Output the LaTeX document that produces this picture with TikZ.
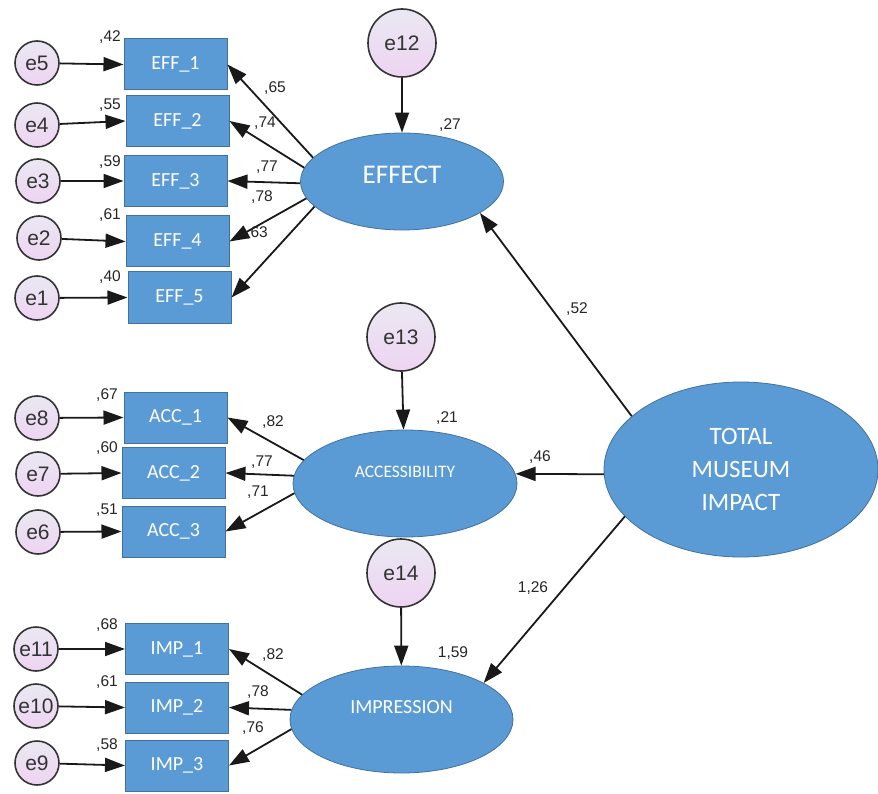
\documentclass[tikz,border=0pt]{standalone}
\usepackage{fontspec}
\usetikzlibrary{shapes.geometric,arrows.meta}
\newfontfamily\numfont{Liberation Sans}
\newfontfamily\boxfont{Carlito}
\definecolor{amosblue}{RGB}{91,155,213}
\definecolor{amosedge}{RGB}{65,113,156}
\definecolor{errtop}{RGB}{234,232,242}
\definecolor{errbot}{RGB}{238,212,242}
\newcommand{\liftby}[2]{\raisebox{#1}[0pt][0pt]{#2}}
\tikzstyle{errs}=[circle,draw=black!80,line width=1.6pt,top color=errtop,bottom color=errbot,minimum size=44pt,inner sep=0pt,text=black!80,font=\numfont\fontsize{21}{21}\selectfont]
\tikzstyle{errl}=[errs,minimum size=68pt]
\tikzstyle{obs}=[rectangle,draw=amosedge,line width=1pt,fill=amosblue,minimum width=103pt,minimum height=51pt,inner sep=0pt,text=white,font=\boxfont\fontsize{20}{20}\selectfont]
\tikzstyle{lat}=[ellipse,draw=amosedge,line width=0.8pt,fill=amosblue,inner sep=0pt,text=white]
\tikzstyle{val}=[inner sep=0pt,text=black!85,font=\numfont\fontsize{15.5}{15.5}\selectfont]
\tikzstyle{arr}=[line width=1.8pt,draw=black!90,-{Triangle[length=20pt,width=14pt]}]

\begin{document}
\begin{tikzpicture}[x=1pt,y=-1pt]
    \useasboundingbox (0,0) rectangle (878,794);
    % latent variables
    \node[lat,minimum width=203pt,minimum height=97pt,font=\boxfont\fontsize{27}{27}\selectfont] (effect) at (402,181.5) {\liftby{-2.5pt}{EFFECT}};
    \node[lat,minimum width=224pt,minimum height=107pt,font=\boxfont\fontsize{17.5}{17.5}\selectfont] (access) at (405,483.5) {\liftby{5.7pt}{ACCESSIBILITY}};
    \node[lat,minimum width=223pt,minimum height=107pt,font=\boxfont\fontsize{20}{20}\selectfont] (impr) at (401.5,719.5) {\liftby{5.7pt}{IMPRESSION}};
    \node[lat,minimum width=274pt,minimum height=175pt,align=center,font=\boxfont\fontsize{25}{33}\selectfont] (total) at (741,469.5) {TOTAL\\MUSEUM\\IMPACT};

    % disturbances
    \node[errl] (e12) at (402,43)  {e12};
    \node[errl] (e13) at (401,337) {e13};
    \node[errl] (e14) at (401,573) {e14};

    % observed variables
    \node[obs] (eff1) at (175.5,64.5)  {EFF\_1};
    \node[obs] (eff2) at (177.5,121)   {EFF\_2};
    \node[obs] (eff3) at (175.5,181)   {EFF\_3};
    \node[obs] (eff4) at (177.5,241.5) {EFF\_4};
    \node[obs] (eff5) at (179.5,297.5) {EFF\_5};
    \node[obs] (acc1) at (175.5,417.5) {ACC\_1};
    \node[obs] (acc2) at (173.5,473)   {ACC\_2};
    \node[obs] (acc3) at (173.5,531.5) {ACC\_3};
    \node[obs] (imp1) at (177,649)     {IMP\_1};
    \node[obs] (imp2) at (177,707.5)   {IMP\_2};
    \node[obs] (imp3) at (177,765.5)   {IMP\_3};

    % measurement errors
    \node[errs] (e5)  at (37,63)  {e5};
    \node[errs] (e4)  at (37,125) {e4};
    \node[errs] (e3)  at (38,181) {e3};
    \node[errs] (e2)  at (39,238) {e2};
    \node[errs] (e1)  at (37,298) {e1};
    \node[errs] (e8)  at (37,418) {e8};
    \node[errs] (e7)  at (38,474) {e7};
    \node[errs] (e6)  at (38,532) {e6};
    \node[errs] (e11) at (36,649) {e11};
    \node[errs] (e10) at (36,706) {e10};
    \node[errs] (e9)  at (37,763) {e9};

    \foreach \from/\to in {e5/eff1,e4/eff2,e3/eff3,e2/eff4,e1/eff5,e8/acc1,e7/acc2,e6/acc3,e11/imp1,e10/imp2,e9/imp3}
    \draw[arr] (\from) -- (\to.west);

    \foreach \from/\to in {effect.165/eff1.east,effect.172/eff2.east,effect.181/eff3.east,effect.190/eff4.east,effect.196/eff5.east,
                           access.167/acc1.east,access.176/acc2.east,access.185/acc3.east,
                           impr.166/imp1.east,impr.175/imp2.east,impr.185/imp3.east}
    \draw[arr] (\from) -- (\to);

    \foreach \from/\to in {e12/effect,e13/access,e14/impr,total.154/effect.-22,total.182/access.5,total.202/impr.24}
    \draw[arr] (\from) -- (\to);

    % squared multiple correlations
    \node[val] (r42) at (110,37)  {,42};
    \node[val] (r55) at (110,105) {,55};
    \node[val] (r59) at (110,162) {,59};
    \node[val] (r61) at (110,215) {,61};
    \node[val] (r40) at (110,277) {,40};
    \node[val] (r67) at (107,395) {,67};
    \node[val] (r60) at (107,448) {,60};
    \node[val] (r51) at (107,510) {,51};
    \node[val] (r68) at (107,625) {,68};
    \node[val] (r61b) at (107,682) {,61};
    \node[val] (r58) at (107,745) {,58};
    \node[val] (r27) at (450,125) {,27};
    \node[val] (r21) at (447,418) {,21};
    \node[val] (r159) at (453,653) {1,59};

    % loadings and paths
    \node[val] (w65) at (275,88)  {,65};
    \node[val] (w74) at (265,123) {,74};
    \node[val] (w77) at (267,167) {,77};
    \node[val] (w78) at (262,197) {,78};
    \node[val] (w63) at (257,233) {,63};
    \node[val] (w82) at (273,422) {,82};
    \node[val] (w77b) at (262,462) {,77};
    \node[val] (w71) at (258,492) {,71};
    \node[val] (w82b) at (273,655) {,82};
    \node[val] (w78b) at (258,692) {,78};
    \node[val] (w76) at (253,728) {,76};
    \node[val] (w52) at (577,309) {,52};
    \node[val] (w46) at (540,457) {,46};
    \node[val] (w126) at (533,588) {1,26};
\end{tikzpicture}
\end{document}
